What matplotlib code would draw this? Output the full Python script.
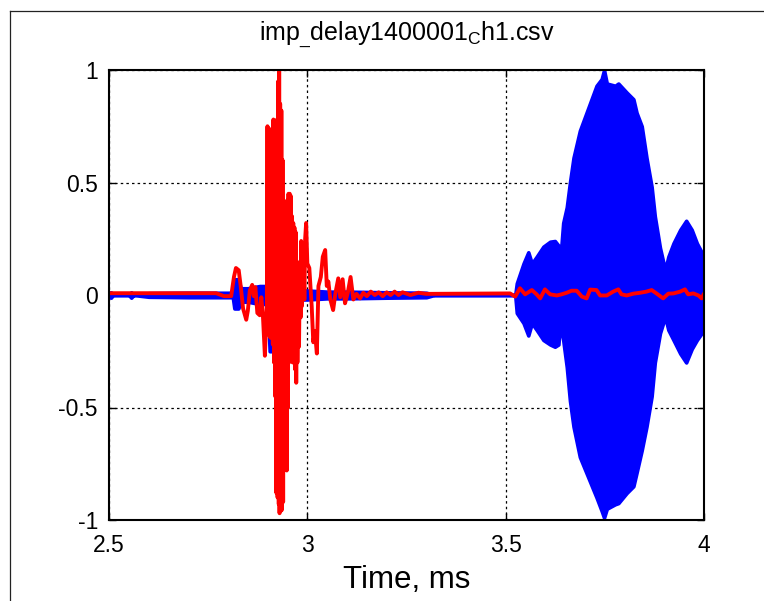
import matplotlib
matplotlib.use("Agg")
import matplotlib.pyplot as plt
from matplotlib.lines import Line2D

plt.rcParams['font.family'] = ['Liberation Sans', 'DejaVu Sans']
plt.rcParams['mathtext.fontset'] = 'custom'
plt.rcParams['mathtext.rm'] = 'Liberation Sans'
plt.rcParams['mathtext.it'] = 'Liberation Sans:italic'
plt.rcParams['mathtext.bf'] = 'Liberation Sans:bold'

# ---- channel 1 (blue): envelope of the dense oscillation ----
blue_t = [2.500, 2.505, 2.510, 2.550, 2.556, 2.562, 2.600, 2.700, 2.770, 2.790,
          2.812, 2.816, 2.826, 2.832, 2.850, 2.880, 2.900, 2.905, 2.914, 2.918,
          2.930, 2.960, 3.000, 3.050, 3.100, 3.200, 3.300, 3.320, 3.500, 3.524,
          3.528, 3.545, 3.557, 3.566, 3.578, 3.595, 3.612, 3.624, 3.633, 3.637,
          3.645, 3.654, 3.662, 3.671, 3.687, 3.708, 3.729, 3.742, 3.748, 3.755,
          3.776, 3.784, 3.805, 3.822, 3.830, 3.843, 3.855, 3.868, 3.876, 3.889,
          3.902, 3.910, 3.923, 3.940, 3.955, 3.969, 3.982, 3.994, 4.000]
blue_hi = [0.010, 0.012, 0.000, 0.000, 0.012, 0.000, 0.008, 0.010, 0.010, 0.010,
           0.010, 0.070, 0.070, 0.030, 0.030, 0.040, 0.040, 0.020, 0.020, 0.030,
           0.030, 0.020, 0.020, 0.015, 0.015, 0.012, 0.010, 0.000, 0.000, 0.000,
           0.052, 0.140, 0.190, 0.140, 0.170, 0.215, 0.237, 0.240, 0.220, 0.140,
           0.320, 0.390, 0.500, 0.610, 0.730, 0.830, 0.930, 0.960, 1.000, 0.940,
           0.930, 0.940, 0.900, 0.870, 0.810, 0.750, 0.610, 0.480, 0.350, 0.210,
           0.110, 0.170, 0.230, 0.290, 0.330, 0.290, 0.230, 0.190, 0.180]
blue_lo = [-0.010, -0.012, 0.000, 0.000, -0.012, 0.000, -0.008, -0.010, -0.010, -0.010,
           -0.010, -0.060, -0.060, -0.030, -0.030, -0.040, -0.040, -0.250, -0.250, -0.030,
           -0.030, -0.020, -0.020, -0.015, -0.015, -0.012, -0.010, 0.000, 0.000, 0.000,
           -0.080, -0.125, -0.180, -0.125, -0.155, -0.200, -0.220, -0.230, -0.220, -0.125,
           -0.200, -0.320, -0.470, -0.585, -0.720, -0.810, -0.900, -0.960, -0.990, -0.950,
           -0.930, -0.925, -0.880, -0.850, -0.790, -0.690, -0.585, -0.450, -0.300, -0.170,
           -0.096, -0.155, -0.200, -0.260, -0.300, -0.240, -0.200, -0.170, -0.165]

# ---- channel 2 (red): impulse response ----
red_t = [2.500, 2.770, 2.790, 2.808, 2.815, 2.820, 2.827, 2.832, 2.838, 2.846,
         2.850, 2.855, 2.861, 2.865, 2.869, 2.874, 2.880, 2.884, 2.888, 2.893,
         2.8980, 2.8995, 2.9010, 2.9025, 2.9040, 2.9055, 2.9070, 2.9085, 2.9100, 2.9115,
         2.9130, 2.9145, 2.9160, 2.9175, 2.9190, 2.9205, 2.9220, 2.9235, 2.9250, 2.9265,
         2.9280, 2.9290, 2.9300, 2.9315, 2.9330, 2.9345, 2.9360, 2.9375, 2.9390, 2.9405,
         2.9420, 2.9435, 2.9450, 2.9465, 2.9480, 2.9495, 2.9510, 2.9525, 2.9540, 2.9555,
         2.9570, 2.9585, 2.9600, 2.9615, 2.9630, 2.9645, 2.9660, 2.9675, 2.9690, 2.9705,
         2.9720, 2.9735, 2.9750, 2.9770, 2.9790, 2.9810, 2.9830, 2.9845, 2.9860, 2.9875,
         2.9890, 2.9905, 2.9925, 2.9945, 2.9970, 3.000, 3.005, 3.011, 3.015, 3.019,
         3.024, 3.028, 3.034, 3.039, 3.045, 3.049, 3.053, 3.058, 3.065, 3.071,
         3.078, 3.083, 3.089, 3.095, 3.102, 3.109, 3.116, 3.124, 3.133, 3.141,
         3.150, 3.160, 3.170, 3.180, 3.190, 3.200, 3.210, 3.220, 3.230, 3.240,
         3.260, 3.280, 3.300, 3.486, 3.511, 3.524, 3.536, 3.549, 3.566, 3.578,
         3.587, 3.599, 3.612, 3.629, 3.641, 3.654, 3.666, 3.679, 3.692, 3.704,
         3.713, 3.729, 3.738, 3.755, 3.771, 3.784, 3.792, 3.805, 3.822, 3.839,
         3.855, 3.868, 3.881, 3.897, 3.910, 3.923, 3.940, 3.952, 3.960, 3.973,
         3.986, 3.994, 4.000]
red_v = [0.008, 0.008, -0.005, -0.005, 0.080, 0.120, 0.110, 0.040, -0.060, -0.110,
         -0.070, 0.020, 0.045, -0.005, 0.035, -0.080, -0.090, -0.010, -0.090, -0.270,
         -0.040, 0.750, -0.150, 0.740, -0.180, 0.730, -0.190, 0.720, -0.170, 0.740,
         -0.220, 0.780, -0.300, 0.770, -0.450, 0.760, -0.880, 0.780, -0.900, 0.950,
         -0.930, 1.000, -0.970, 0.850, -0.960, 0.820, -0.955, 0.600, -0.920, 0.420,
         -0.700, 0.410, -0.760, 0.400, -0.780, 0.420, -0.500, 0.450, -0.300, 0.450,
         -0.250, 0.440, -0.200, 0.350, -0.300, 0.320, -0.250, 0.300, -0.330, 0.280,
         -0.390, 0.150, -0.300, 0.040, -0.230, 0.100, -0.100, 0.240, -0.050, 0.220,
         0.000, 0.200, -0.020, 0.250, 0.320, 0.140, 0.120, -0.050, -0.210, -0.160,
         -0.260, 0.040, 0.080, 0.170, 0.200, 0.040, 0.060, -0.020, -0.067, 0.010,
         0.074, -0.010, 0.070, -0.037, 0.010, 0.080, -0.020, 0.005, -0.015, 0.010,
         -0.005, 0.015, 0.000, 0.012, -0.005, 0.012, 0.000, 0.015, 0.000, 0.012,
         0.000, 0.010, 0.005, 0.007, 0.007, -0.007, 0.030, 0.003, 0.022, 0.003,
         -0.015, 0.025, 0.003, -0.002, 0.003, 0.010, 0.019, 0.019, -0.007, -0.015,
         0.024, 0.022, -0.002, -0.002, 0.015, 0.025, 0.003, -0.002, 0.006, 0.010,
         0.015, 0.022, 0.006, -0.015, 0.006, 0.007, 0.015, 0.025, 0.003, 0.007,
         -0.002, -0.015, 0.006]

x_ticks = [2.5, 3, 3.5, 4]
x_labels = ['2.5', '3', '3.5', '4']
y_ticks = [-1, -0.5, 0, 0.5, 1]
y_labels = ['-1', '-0.5', '0', '0.5', '1']

W, H = 764, 601
fig = plt.figure(figsize=(W / 100, H / 100), dpi=100)
fig.patch.set_facecolor('white')

ax = fig.add_axes([109 / W, 1 - 520 / H, (704 - 109) / W, (520 - 70) / H])

ax.fill_between(blue_t, blue_lo, blue_hi, facecolor='#0000ff', edgecolor='#0000ff',
                linewidth=2.6, joinstyle='round', zorder=2)
ax.plot(red_t, red_v, color='#ff0000', linewidth=2.8, solid_joinstyle='round',
        solid_capstyle='round', zorder=3)

ax.set_xlim(2.5, 4)
ax.set_ylim(-1, 1)
ax.set_xticks(x_ticks)
ax.set_xticklabels(x_labels)
ax.set_yticks(y_ticks)
ax.set_yticklabels(y_labels)
ax.tick_params(direction='in', top=True, right=True, length=5, width=1.0,
               labelsize=16.5, colors='black')
ax.tick_params(axis='x', pad=10)
ax.tick_params(axis='y', pad=8)
ax.grid(True, color='black', linestyle=(0, (2, 2.5)), linewidth=0.9, zorder=1)
ax.set_axisbelow(True)
for s in ax.spines.values():
    s.set_linewidth(1.5)
    s.set_color('black')
    s.set_zorder(5)

fig.text(406.5 / W, 1 - 34 / H, r'imp$_{\_}$delay1400001$_{\mathrm{C}}$h1.csv',
         ha='center', va='center', fontsize=18)
fig.text(406.5 / W, 1 - 580 / H, 'Time, ms', ha='center', va='center', fontsize=22.5)

# outer frame
fig.add_artist(Line2D([9.5 / W, 9.5 / W], [0, 1 - 10.5 / H], transform=fig.transFigure,
                      color='#222222', linewidth=0.9))
fig.add_artist(Line2D([9.5 / W, 1], [1 - 10.5 / H, 1 - 10.5 / H], transform=fig.transFigure,
                      color='#222222', linewidth=0.9))

fig.savefig('out.png', dpi=100, facecolor='white')
